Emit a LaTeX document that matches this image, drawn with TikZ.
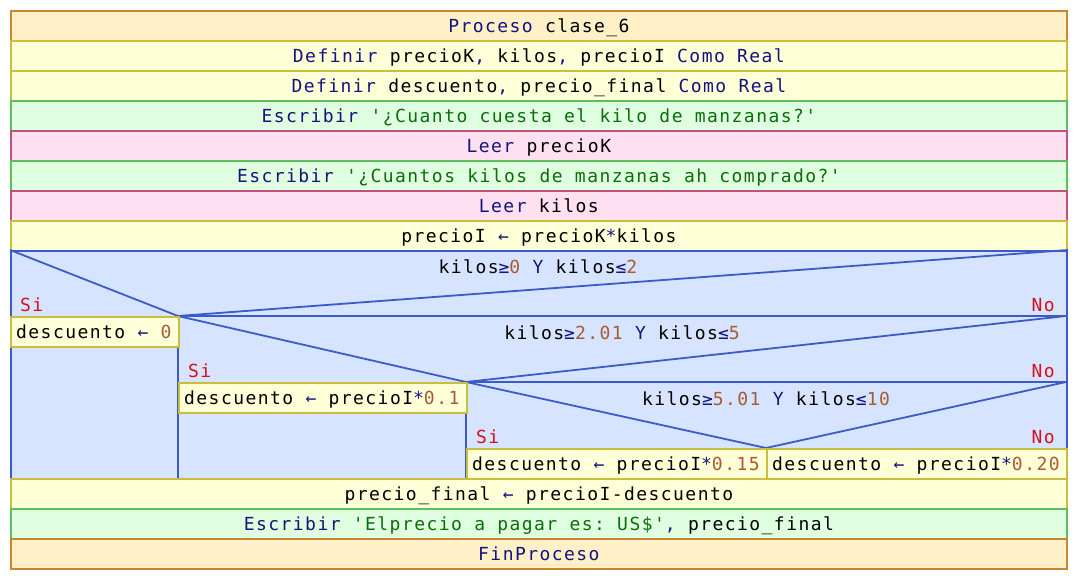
\documentclass[tikz,border=0pt]{standalone}
\usepackage{fontspec}
\setmonofont[LetterSpace=8]{DejaVu Sans Mono}
\definecolor{procF}{HTML}{FFF0C8}
\definecolor{procD}{HTML}{C8862E}
\definecolor{defF}{HTML}{FFFFD8}
\definecolor{defD}{HTML}{C8BE3C}
\definecolor{escF}{HTML}{E0FFE0}
\definecolor{escD}{HTML}{5CBE5C}
\definecolor{leerF}{HTML}{FFE0F0}
\definecolor{leerD}{HTML}{C0507E}
\definecolor{decF}{HTML}{D6E4FF}
\definecolor{decD}{HTML}{3C5AC8}
\definecolor{kwC}{HTML}{14147E}
\definecolor{strC}{HTML}{0A6E0A}
\definecolor{numC}{HTML}{A85A32}
\definecolor{redC}{HTML}{D8101E}
\newcommand{\kw}[1]{\textcolor{kwC}{#1}}
\newcommand{\sq}[1]{\textcolor{strC}{#1}}
\newcommand{\nm}[1]{\textcolor{numC}{#1}}
\newcommand{\opr}[1]{\textcolor{kwC}{#1}}
\begin{document}
\begin{tikzpicture}[x=1pt,y=-1pt,
  every node/.style={font=\ttfamily\fontsize{18}{21}\selectfont, inner sep=0pt},
  row/.style={draw, line width=1.8pt, minimum width=1056pt, minimum height=30pt,
    text height=13pt, text depth=0pt, anchor=north west},
  procrow/.style={row, fill=procF, draw=procD},
  defrow/.style={row, fill=defF, draw=defD},
  escrow/.style={row, fill=escF, draw=escD},
  leerrow/.style={row, fill=leerF, draw=leerD},
  asgbox/.style={draw=defD, fill=defF, line width=1.8pt, minimum height=30pt, anchor=north west},
  asgtext/.style={anchor=base west},
  decline/.style={draw=decD, line width=1.8pt},
  sino/.style={text=redC},
  cond/.style={anchor=base}
]
\useasboundingbox (0,0) rectangle (1076,578);
\node[procrow] (p0) at (10,10) {\kw{Proceso} clase\_6};
\node[defrow] (p1) at (10,40) {\kw{Definir} precioK\opr{,} kilos\opr{,} precioI \kw{Como Real}};
\node[defrow] (p2) at (10,70) {\kw{Definir} descuento\opr{,} precio\_final \kw{Como Real}};
\node[escrow] (p3) at (10,100) {\kw{Escribir} \sq{'¿Cuanto cuesta el kilo de manzanas?'}};
\node[leerrow] (p4) at (10,130) {\kw{Leer} precioK};
\node[escrow] (p5) at (10,160) {\kw{Escribir} \sq{'¿Cuantos kilos de manzanas ah comprado?'}};
\node[leerrow] (p6) at (10,190) {\kw{Leer} kilos};
\node[defrow] (p7) at (10,220) {precioI \opr{←} precioK\opr{*}kilos};
% decision block
\node[draw=decD, fill=decF, line width=1.8pt, minimum width=1056pt, minimum height=228pt, anchor=north west] (dec) at (10,250) {};
\coordinate (a1) at (178,316);
\coordinate (a2) at (466,382);
\coordinate (a3) at (766,448);
\coordinate (r1) at (1066,316);
\coordinate (r2) at (1066,382);
\coordinate (bL1) at (178,478);
\coordinate (bL2) at (466,478);
\draw[decline] (dec.north west) -- (a1) -- (dec.north east);
\draw[decline] (a1) -- (r1);
\draw[decline] (a1) -- (bL1);
\draw[decline] (a1) -- (a2) -- (r1);
\draw[decline] (a2) -- (r2);
\draw[decline] (a2) -- (bL2);
\draw[decline] (a2) -- (a3) -- (r2);
\node[cond] (c1) at (538,273) {kilos\opr{≥}\nm{0} \kw{Y} kilos\opr{≤}\nm{2}};
\node[cond] (c2) at (622,339) {kilos\opr{≥}\nm{2.01} \kw{Y} kilos\opr{≤}\nm{5}};
\node[cond] (c3) at (766,405) {kilos\opr{≥}\nm{5.01} \kw{Y} kilos\opr{≤}\nm{10}};
\node[sino, anchor=base west] (s1) at (20,311) {Si};
\node[sino, anchor=base east] (n1) at (1055,311) {No};
\node[sino, anchor=base west] (s2) at (188,377) {Si};
\node[sino, anchor=base east] (n2) at (1055,377) {No};
\node[sino, anchor=base west] (s3) at (476,443) {Si};
\node[sino, anchor=base east] (n3) at (1055,443) {No};
\node[asgbox, minimum width=168pt] (b1) at (10,316) {};
\node[asgbox, minimum width=288pt] (b2) at (178,382) {};
\node[asgbox, minimum width=300pt] (b3) at (466,448) {};
\node[asgbox, minimum width=300pt] (b4) at (766,448) {};
\node[asgtext] (t1) at (16,338) {descuento \opr{←} \nm{0}};
\node[asgtext] (t2) at (184,404) {descuento \opr{←} precioI\opr{*}\nm{0.1}};
\node[asgtext] (t3) at (472,470) {descuento \opr{←} precioI\opr{*}\nm{0.15}};
\node[asgtext] (t4) at (772,470) {descuento \opr{←} precioI\opr{*}\nm{0.20}};
\node[defrow] (p8) at (10,478) {precio\_final \opr{←} precioI-descuento};
\node[escrow] (p9) at (10,508) {\kw{Escribir} \sq{'Elprecio a pagar es: US\$'}\opr{,} precio\_final};
\node[procrow] (p10) at (10,538) {\kw{FinProceso}};
\end{tikzpicture}
\end{document}
